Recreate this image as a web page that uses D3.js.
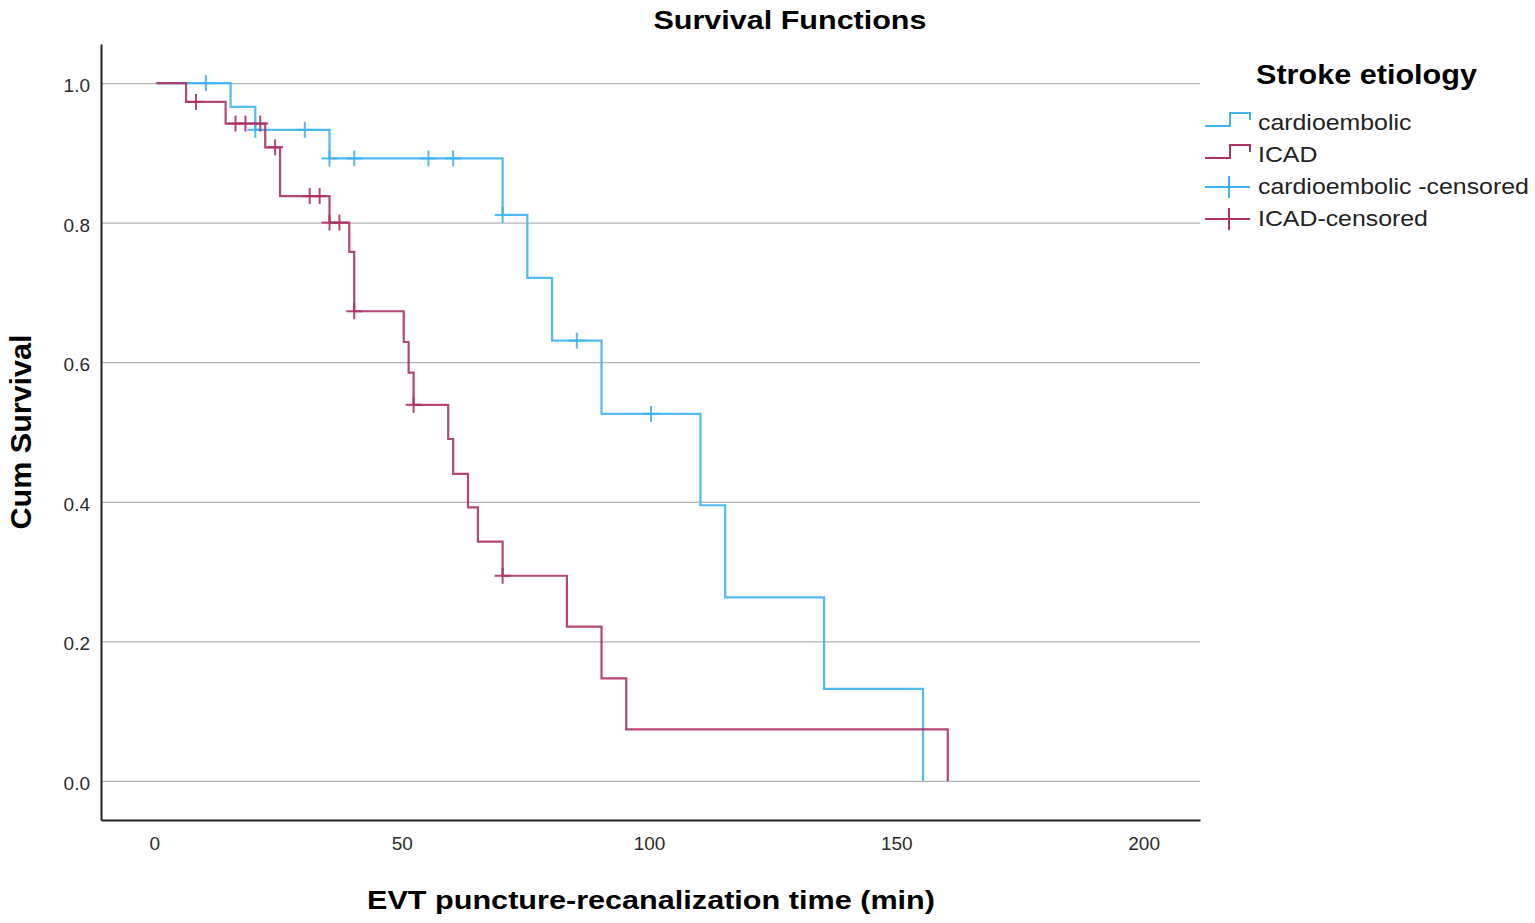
<!DOCTYPE html>
<html>
<head>
<meta charset="utf-8">
<script src="https://cdn.jsdelivr.net/npm/d3@7"></script>
<style>
  body { margin: 0; background: #fff; }
  text { font-family: "Liberation Sans", Arial, sans-serif; }
  .grid line { stroke: #b4b4b4; stroke-width: 1.3; }
  .grid path { stroke: none; }
  .axis path { stroke: #222; stroke-width: 2; }
  .axis text { fill: #2b2b2b; font-size: 19px; }
</style>
</head>
<body>
<svg width="1535" height="923"></svg>
<script>
// cardioembolic group: event times, survival after each event, censored times
var ceTimes = [15, 20, 35, 70, 75, 80, 90, 110, 115, 135, 155];
var ceSurv = [0.966, 0.933, 0.892, 0.811, 0.721, 0.631, 0.526, 0.395, 0.263, 0.132, 0];
var ceCensor = [10, 20, 30, 35, 40, 55, 60, 70, 85, 100];

// ICAD group
var icadTimes = [6, 14, 22, 25, 35, 39, 40, 50, 51, 52, 59, 60, 63, 65, 70, 83, 90, 95, 160];
var icadSurv = [0.973, 0.942, 0.908, 0.838, 0.800, 0.758, 0.673, 0.629, 0.585, 0.539, 0.490, 0.440, 0.392, 0.343, 0.294, 0.221, 0.147, 0.074, 0];
var icadCensor = [8, 16, 18, 21, 24, 31, 33, 35, 37, 40, 52, 70];

var xTicks = [0, 50, 100, 150, 200];
var yTicks = [0, 0.2, 0.4, 0.6, 0.8, 1.0];
var legendLabels = ["cardioembolic", "ICAD", "cardioembolic -censored", "ICAD-censored"];

var blue = "#3db3f2",
    red = "#ae3265";

var svg = d3.select("svg"),
    margin = {top: 44, left: 101, right: 335, bottom: 103},
    width = svg.attr("width") - margin.left - margin.right,
    height = svg.attr("height") - margin.top - margin.bottom,
    g = svg.append("g").attr("transform", "translate(" + margin.left + "," + margin.top + ")");

// the axes run a little past 0..200 and 0..1 like the SPSS plot
var x = d3.scaleLinear().domain([-11.2, 211.0]).range([0, width]),
    y = d3.scaleLinear().domain([-0.056, 1.056]).range([height, 0]);

// horizontal gridlines
g.append("g")
    .attr("class", "grid")
    .call(d3.axisLeft(y).tickValues(yTicks).tickSize(-width).tickFormat(""));

// turn the arrays into step points, starting at (0,1)
function steps(times, surv) {
    var pts = [{t: 0, s: 1}];
    times.forEach(function(t, i) { pts.push({t: t, s: surv[i]}); });
    return pts;
}

// survival value in force at time t
function survAt(times, surv, t) {
    var s = 1;
    times.forEach(function(tt, i) { if (tt <= t) s = surv[i]; });
    return s;
}

var line = d3.line()
    .curve(d3.curveStepAfter)
    .x(function(d) { return x(d.t); })
    .y(function(d) { return y(d.s); });

var groups = [
    {id: "cardioembolic", color: blue, times: ceTimes, surv: ceSurv, censor: ceCensor},
    {id: "ICAD", color: red, times: icadTimes, surv: icadSurv, censor: icadCensor}
];

groups.forEach(function(grp) {
    g.append("path")
        .attr("d", line(steps(grp.times, grp.surv)))
        .attr("fill", "none")
        .attr("stroke", grp.color)
        .attr("stroke-width", 2.2)
        .attr("stroke-opacity", 0.9);

    // censored marks: little plus signs
    var marks = g.selectAll(".c-" + grp.id)
        .data(grp.censor)
        .enter().append("g")
        .attr("transform", function(d) {
            return "translate(" + x(d) + "," + y(survAt(grp.times, grp.surv, d)) + ")";
        });
    marks.append("line")
        .attr("x1", 0).attr("x2", 0).attr("y1", -8).attr("y2", 8)
        .attr("stroke", grp.color).attr("stroke-width", 2).attr("stroke-opacity", 0.9);
    marks.append("line")
        .attr("x1", -8).attr("x2", 8).attr("y1", 0).attr("y2", 0)
        .attr("stroke", grp.color).attr("stroke-width", 2).attr("stroke-opacity", 0.9);
});

// axes
g.append("g")
    .attr("class", "axis")
    .call(d3.axisLeft(y).tickValues(yTicks).tickSize(0).tickPadding(11).tickFormat(d3.format(".1f")))
    .selectAll("text").attr("dy", "0.45em");

g.append("g")
    .attr("class", "axis")
    .attr("transform", "translate(0," + height + ")")
    .call(d3.axisBottom(x).tickValues(xTicks).tickSize(0).tickPadding(17))
    .selectAll("text").attr("dx", -2);

// titles
svg.append("text")
    .attr("x", 790).attr("y", 29)
    .attr("text-anchor", "middle")
    .style("font-size", "25px").style("font-weight", "bold")
    .attr("textLength", 273).attr("lengthAdjust", "spacingAndGlyphs")
    .text("Survival Functions");

svg.append("text")
    .attr("x", 651).attr("y", 909)
    .attr("text-anchor", "middle")
    .style("font-size", "26px").style("font-weight", "bold")
    .attr("textLength", 568).attr("lengthAdjust", "spacingAndGlyphs")
    .text("EVT puncture-recanalization time (min)");

svg.append("text")
    .attr("transform", "translate(31,432) rotate(-90)")
    .attr("text-anchor", "middle")
    .style("font-size", "29px").style("font-weight", "bold")
    .attr("textLength", 195).attr("lengthAdjust", "spacingAndGlyphs")
    .text("Cum Survival");

// legend
var legend = svg.append("g").attr("transform", "translate(1205,0)");

legend.append("text")
    .attr("x", 51).attr("y", 84)
    .style("font-size", "27px").style("font-weight", "bold")
    .attr("textLength", 221).attr("lengthAdjust", "spacingAndGlyphs")
    .text("Stroke etiology");

var legendColors = [blue, red, blue, red];
legendLabels.forEach(function(lab, i) {
    var cy = 123 + i * 32;
    if (i < 2) {
        legend.append("path")
            .attr("d", "M0," + (cy + 3) + "H25V" + (cy - 10) + "H45V" + (cy - 3))
            .attr("fill", "none").attr("stroke", legendColors[i]).attr("stroke-width", 2);
    } else {
        legend.append("path")
            .attr("d", "M0," + cy + "H45M24," + (cy - 11) + "V" + (cy + 11))
            .attr("fill", "none").attr("stroke", legendColors[i]).attr("stroke-width", 2);
    }
    var t = legend.append("text")
        .attr("x", 53).attr("y", cy + 7)
        .style("font-size", "22px").style("fill", "#222")
        .text(lab);
    // SPSS legend text is a bit wider than Liberation Sans
    var w = t.node().getComputedTextLength();
    t.attr("textLength", w * 1.13).attr("lengthAdjust", "spacingAndGlyphs");
});
</script>
</body>
</html>
